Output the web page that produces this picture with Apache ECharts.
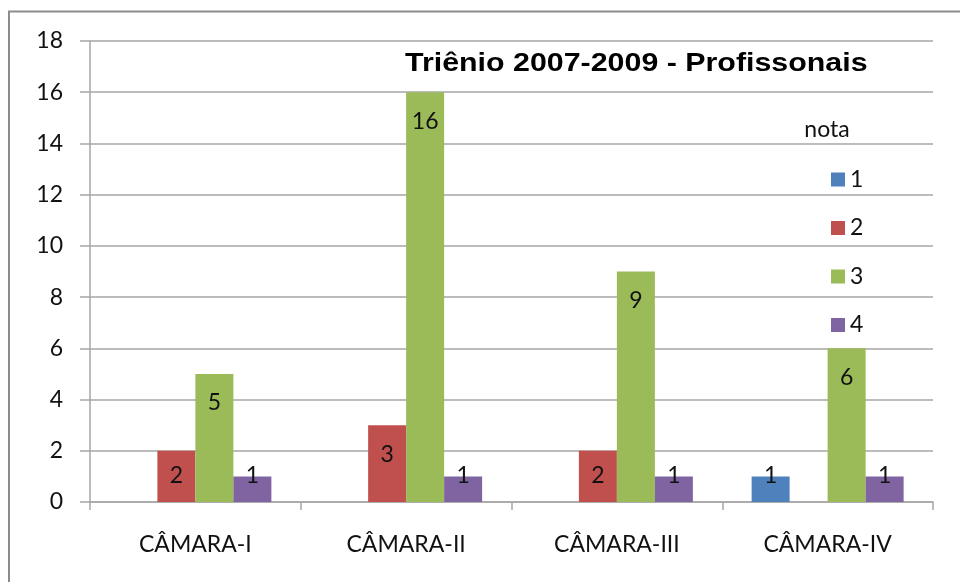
<!DOCTYPE html>
<html>
<head>
<meta charset="utf-8">
<script src="https://cdn.jsdelivr.net/npm/echarts@6/dist/echarts.min.js"></script>
<style>
    html, body { margin: 0; padding: 0; background: #fff; }
    #chart { width: 960px; height: 582px; }
</style>
</head>
<body>
<div id="chart"></div>
<script>
const categories = ["CÂMARA-I", "CÂMARA-II", "CÂMARA-III", "CÂMARA-IV"];
const seriesNames = ["1", "2", "3", "4"];
const nota1 = [0, 0, 0, 1];
const nota2 = [2, 3, 2, 0];
const nota3 = [5, 16, 9, 6];
const nota4 = [1, 1, 1, 1];
const yTicks = [0, 2, 4, 6, 8, 10, 12, 14, 16, 18];

const colors = ["#4F81BD", "#C0504D", "#9BBB59", "#8064A2"];
const gridTop = 41, gridBottom = 80;
const unit = (582 - gridTop - gridBottom) / 18;
const font = "Lato";
const txt = "#111";

// excel-ish "inside end" labels: sit ~29px under the top, but never lower than 26px above the base
function toItems(values) {
    return values.map(v => {
        if (!v) return "-";
        const off = Math.min(29, v * unit - 26);
        return {
            value: v,
            label: { position: ["50%", off] }
        };
    });
}

const all = [nota1, nota2, nota3, nota4];
const chart = echarts.init(document.getElementById("chart"));

const option = {
    animation: false,
    color: colors,
    grid: { left: 90, right: 27, top: gridTop, bottom: gridBottom },
    graphic: [
        {
            type: "rect",
            shape: { x: 9, y: 11.5, width: 2000, height: 2000 },
            style: { fill: "none", stroke: "#8c8c8c", lineWidth: 2 },
            z: -10
        },
        {
            type: "text",
            x: 405, y: 64,
            scaleX: 1.215,
            style: {
                text: "Triênio 2007-2009 - Profissonais",
                font: "bold 25px 'Liberation Sans'",
                fill: "#000",
                textAlign: "left",
                textVerticalAlign: "middle"
            }
        },
        {
            type: "text",
            x: 827, y: 130,
            style: {
                text: "nota",
                font: "23px " + font,
                fill: txt,
                textAlign: "center",
                textVerticalAlign: "middle"
            }
        }
    ],
    legend: {
        orient: "vertical",
        left: 826,
        top: 163,
        itemWidth: 14,
        itemHeight: 14,
        itemGap: 25.5,
        icon: "rect",
        data: seriesNames,
        textStyle: { fontFamily: font, fontSize: 23, lineHeight: 23, color: txt }
    },
    xAxis: {
        type: "category",
        data: categories,
        axisLine: { lineStyle: { color: "#A6A6A6", width: 1.5 } },
        axisTick: { show: true, length: 8, lineStyle: { color: "#A6A6A6", width: 1.5 } },
        axisLabel: { fontFamily: font, fontSize: 23, lineHeight: 23, color: txt, margin: 31 }
    },
    yAxis: {
        type: "value",
        min: yTicks[0],
        max: yTicks[yTicks.length - 1],
        interval: 2,
        axisLine: { show: true, lineStyle: { color: "#A6A6A6", width: 1.5 } },
        axisTick: { show: true, length: 10, lineStyle: { color: "#A6A6A6", width: 1.5 } },
        splitLine: { lineStyle: { color: "#A6A6A6", width: 1.5 } },
        axisLabel: { fontFamily: font, fontSize: 23, color: txt, margin: 27 }
    },
    series: seriesNames.map((name, i) => ({
        name: name,
        type: "bar",
        barWidth: 38,
        barGap: "0%",
        data: toItems(all[i]),
        label: {
            show: true,
            align: "center",
            verticalAlign: "middle",
            fontFamily: font,
            fontSize: 23,
            color: txt
        }
    }))
};
chart.setOption(option);
</script>
</body>
</html>
